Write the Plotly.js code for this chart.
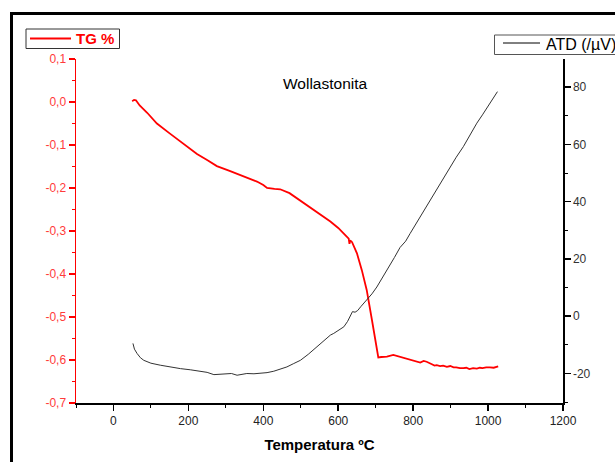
<!DOCTYPE html>
<html>
<head>
<meta charset="utf-8">
<script src="https://cdn.plot.ly/plotly-3.0.1.min.js"></script>
<style>
html,body{margin:0;padding:0;background:#fff;}
#chart{width:615px;height:462px;}
</style>
</head>
<body>
<div id="chart"></div>
<script>
// TG curve (temperature in °C, mass change in %)
const tgT = [50, 55, 60, 70, 90, 116, 150, 179, 200, 223, 250, 276, 310, 339, 365, 383, 400, 410, 430, 445, 470, 490, 510, 525, 550, 579, 600, 623, 628, 630, 632, 637, 645, 650, 663, 676, 690, 707, 715, 730, 747, 760, 772, 783, 800, 810, 819, 828, 836, 850, 857, 863, 872, 880, 890, 899, 908, 915, 925, 934, 942, 950, 960, 970, 978, 985, 995, 1005, 1015, 1027];
const tgV = [0.002, 0.005, 0.004, -0.008, -0.025, -0.050, -0.073, -0.092, -0.106, -0.121, -0.135, -0.149, -0.160, -0.170, -0.179, -0.185, -0.193, -0.200, -0.202, -0.203, -0.212, -0.224, -0.236, -0.247, -0.262, -0.278, -0.293, -0.313, -0.318, -0.330, -0.322, -0.326, -0.340, -0.352, -0.391, -0.437, -0.507, -0.594, -0.593, -0.592, -0.588, -0.591, -0.594, -0.596, -0.600, -0.603, -0.606, -0.602, -0.604, -0.610, -0.613, -0.612, -0.614, -0.613, -0.616, -0.614, -0.617, -0.617, -0.619, -0.619, -0.618, -0.621, -0.619, -0.620, -0.618, -0.619, -0.617, -0.617, -0.618, -0.615];

// ATD curve (temperature in °C, signal in µV)
const atdT = [52, 56, 63, 72, 81, 100, 125, 150, 179, 205, 232, 250, 268, 285, 303, 315, 330, 345, 356, 375, 392, 410, 428, 445, 463, 480, 499, 520, 543, 565, 579, 588, 600, 615, 625, 632, 638, 645, 652, 660, 676, 690, 703, 718, 734, 750, 765, 780, 792, 810, 827, 845, 863, 880, 899, 915, 934, 950, 970, 985, 996, 1010, 1025];
const atdV = [-9.5, -11.5, -13.0, -14.5, -15.4, -16.4, -17.1, -17.7, -18.3, -18.7, -19.1, -19.6, -20.4, -20.3, -20.3, -20.0, -20.6, -20.2, -20.0, -20.1, -20.0, -19.7, -19.2, -18.6, -17.7, -16.6, -15.4, -13.3, -10.7, -8.3, -6.6, -6.0, -5.0, -3.7, -1.8, -0.2, 1.6, 1.4, 2.0, 3.3, 5.6, 7.8, 10.2, 13.4, 16.7, 20.5, 24.0, 26.2, 28.9, 32.8, 36.5, 40.5, 44.1, 47.9, 52.2, 55.5, 59.2, 63.0, 67.4, 70.3, 72.6, 75.5, 78.4];

// tick values and labels
const tgTickVals = [0.1, 0.0, -0.1, -0.2, -0.3, -0.4, -0.5, -0.6, -0.7];
const tgTickText = ['0,1', '0,0', '-0,1', '-0,2', '-0,3', '-0,4', '-0,5', '-0,6', '-0,7'];
const atdTickVals = [-20, 0, 20, 40, 60, 80];
const atdTickText = ['-20', '0', '20', '40', '60', '80'];
const xTickVals = [0, 200, 400, 600, 800, 1000, 1200];
const xTickText = ['0', '200', '400', '600', '800', '1000', '1200'];

// legend labels / titles
const tgLabel = 'TG %';
const atdLabel = 'ATD (/µV)';
const chartTitle = 'Wollastonita';
const xTitle = 'Temperatura ºC';

const FONT = '"Liberation Sans", Arial, sans-serif';

// plot-area geometry (pixels) used to place decorations in paper coordinates
const M = {l: 76, r: 52, t: 59, b: 59};
const PW = 615 - M.l - M.r, PH = 462 - M.t - M.b;
const px = v => (v - M.l) / PW;
const py = v => (462 - M.b - v) / PH;

const traces = [
  {
    x: tgT, y: tgV, type: 'scatter', mode: 'lines', name: tgLabel,
    line: {color: '#ff0000', width: 1.8}, yaxis: 'y'
  },
  {
    x: atdT, y: atdV, type: 'scatter', mode: 'lines', name: atdLabel,
    line: {color: '#333333', width: 1}, yaxis: 'y2'
  }
];

const layout = {
  width: 615, height: 462,
  margin: M,
  paper_bgcolor: '#ffffff', plot_bgcolor: '#ffffff',
  font: {family: FONT, size: 12, color: '#000'},
  showlegend: false,
  xaxis: {
    range: [-100, 1200], tickmode: 'array', tickvals: xTickVals, ticktext: xTickText,
    showgrid: false, zeroline: false,
    showline: true, linecolor: '#000', linewidth: 1.5,
    ticks: 'outside', ticklen: 6, tickcolor: '#000', tickwidth: 1.5,
    minor: {tickmode: 'linear', tick0: 0, dtick: 100, ticks: 'outside', ticklen: 3, tickcolor: '#000', tickwidth: 1},
    tickfont: {family: FONT, size: 12, color: '#222'},
    title: {text: '<b>' + xTitle + '</b>', font: {family: FONT, size: 15, color: '#000'}, standoff: 12}
  },
  yaxis: {
    range: [-0.7, 0.1], tickmode: 'array', tickvals: tgTickVals, ticktext: tgTickText,
    showgrid: false, zeroline: false,
    showline: true, linecolor: '#ff0000', linewidth: 1.5,
    ticks: 'outside', ticklen: 6, tickcolor: '#ff0000', tickwidth: 1.5,
    minor: {tickmode: 'linear', tick0: 0, dtick: 0.05, ticks: 'outside', ticklen: 3, tickcolor: '#ff0000', tickwidth: 1},
    tickfont: {family: FONT, size: 12, color: '#ff3b3b'}
  },
  yaxis2: {
    overlaying: 'y', side: 'right', anchor: 'x',
    range: [-30.3, 89.8], tickmode: 'array', tickvals: atdTickVals, ticktext: atdTickText,
    showgrid: false, zeroline: false,
    showline: true, linecolor: '#000', linewidth: 1.5,
    ticks: 'outside', ticklen: 6, tickcolor: '#000', tickwidth: 1.5,
    minor: {tickmode: 'linear', tick0: 0, dtick: 10, ticks: 'outside', ticklen: 3, tickcolor: '#000', tickwidth: 1},
    tickfont: {family: FONT, size: 12, color: '#333'}
  },
  annotations: [
    {text: chartTitle, xref: 'paper', yref: 'paper', x: px(325), y: py(83.5),
     xanchor: 'center', yanchor: 'middle', showarrow: false,
     font: {family: FONT, size: 15.5, color: '#000'}},
    {text: '<b>' + tgLabel + '</b>', xref: 'paper', yref: 'paper', x: px(74), y: py(38.8),
     xanchor: 'left', yanchor: 'middle', showarrow: false,
     font: {family: FONT, size: 15, color: '#ff0000'}},
    {text: atdLabel, xref: 'paper', yref: 'paper', x: px(544), y: py(44.5),
     xanchor: 'left', yanchor: 'middle', showarrow: false,
     font: {family: FONT, size: 16, color: '#000'}}
  ],
  shapes: [
    // outer frame
    {type: 'rect', xref: 'paper', yref: 'paper', x0: px(11.5), x1: px(700), y0: py(600), y1: py(13.5),
     line: {color: '#000', width: 3}, fillcolor: 'rgba(0,0,0,0)', layer: 'below'},
    // TG legend box and sample
    {type: 'rect', xref: 'paper', yref: 'paper', x0: px(26), x1: px(119.5), y0: py(48.5), y1: py(29),
     line: {color: '#333', width: 1}, fillcolor: '#fff'},
    {type: 'line', xref: 'paper', yref: 'paper', x0: px(30), x1: px(71), y0: py(38.5), y1: py(38.5),
     line: {color: '#ff0000', width: 2}},
    // ATD legend box and sample
    {type: 'rect', xref: 'paper', yref: 'paper', x0: px(494.5), x1: px(640), y0: py(54.5), y1: py(35),
     line: {color: '#555', width: 1}, fillcolor: '#fff'},
    {type: 'line', xref: 'paper', yref: 'paper', x0: px(503), x1: px(540), y0: py(43), y1: py(43),
     line: {color: '#000', width: 1}}
  ]
};

Plotly.newPlot('chart', traces, layout, {displayModeBar: false, staticPlot: true});
</script>
</body>
</html>
